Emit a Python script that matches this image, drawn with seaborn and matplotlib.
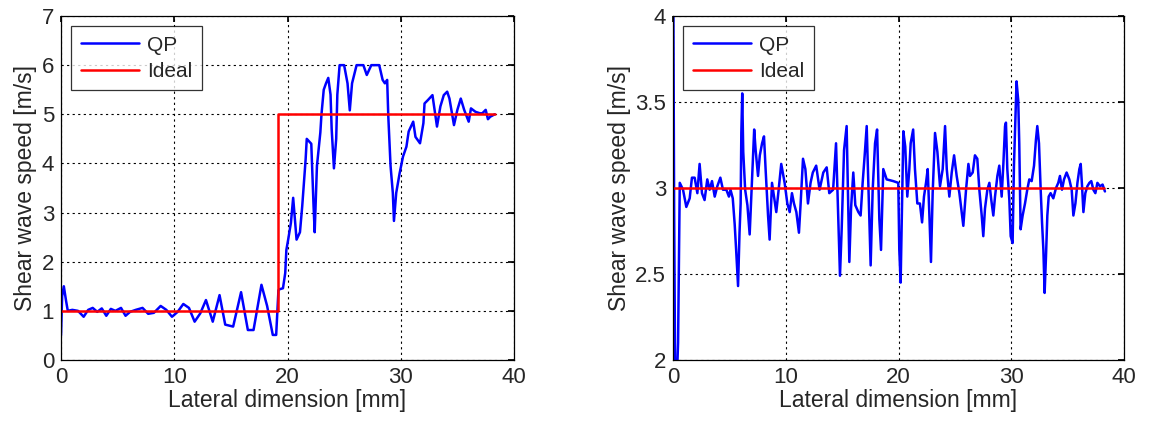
import matplotlib
matplotlib.use("Agg")
import matplotlib.pyplot as plt
import numpy as np
import pandas as pd
import seaborn as sns

# left panel: stepped phantom (1 -> 5 m/s)
step_x = [0, 0.1, 0.25, 0.45, 0.6, 1.0, 1.5, 2.0, 2.4, 2.8, 3.2, 3.6, 4.0, 4.4, 4.8, 5.3, 5.7, 6.1, 6.6,
          7.2, 7.7, 8.2, 8.8, 9.3, 9.8, 10.3, 10.8, 11.3, 11.8, 12.3, 12.8, 13.4, 14.0, 14.5, 15.2, 15.9,
          16.5, 17.0, 17.7, 18.2, 18.7, 19.0, 19.2, 19.3, 19.6, 19.8, 19.9, 20.06, 20.3, 20.5, 20.8,
          21.1, 21.3, 21.6, 21.7, 22.1, 22.3, 22.4, 22.6, 22.9, 23.0, 23.2, 23.4, 23.6, 23.8, 23.9,
          24.1, 24.3, 24.4, 24.6, 25.0, 25.3, 25.5, 25.7, 26.1, 26.7, 27.0, 27.4, 28.1, 28.4, 28.6,
          28.8, 28.9, 29.1, 29.3, 29.4, 29.6, 29.9, 30.2, 30.5, 30.7, 31.1, 31.3, 31.7, 32.0, 32.1,
          32.4, 32.8, 33.2, 33.5, 33.8, 34.1, 34.3, 34.7, 35.0, 35.3, 35.6, 36.0, 36.2, 36.6, 37.0,
          37.2, 37.5, 37.7, 37.9, 38.3]
step_qp = [0.5, 1.3, 1.5, 1.2, 1.0, 1.02, 1.0, 0.88, 1.02, 1.06, 0.98, 1.05, 0.9, 1.04, 1.0, 1.06, 0.9,
           0.98, 1.02, 1.06, 0.94, 0.96, 1.1, 1.02, 0.88, 0.98, 1.14, 1.06, 0.78, 0.95, 1.22, 0.78, 1.32,
           0.72, 0.68, 1.38, 0.61, 0.61, 1.53, 1.1, 0.51, 0.51, 1.42, 1.44, 1.46, 1.77, 2.24, 2.45, 2.79,
           3.3, 2.45, 2.6, 3.13, 4.08, 4.5, 4.4, 3.14, 2.6, 3.95, 4.63, 5.0, 5.5, 5.63, 5.74, 5.4, 4.7,
           3.9, 4.5, 5.4, 6.0, 6.0, 5.63, 5.08, 5.63, 6.0, 6.0, 5.8, 6.0, 6.0, 5.7, 5.63, 5.7, 4.96,
           3.95, 3.4, 2.83, 3.4, 3.8, 4.14, 4.34, 4.65, 4.85, 4.54, 4.41, 4.82, 5.22, 5.29, 5.39, 4.75,
           5.16, 5.39, 5.46, 5.32, 4.78, 5.09, 5.32, 5.09, 4.85, 5.12, 5.05, 5.02, 5.02, 5.09, 4.9,
           4.95, 5.0]
step_ideal_x = [0, 19.15, 19.15, 38.3]
step_ideal = [1, 1, 5, 5]

# right panel: homogeneous phantom (3 m/s)
homo_x = [0, 0.1, 0.2, 0.35, 0.45, 0.6, 0.89, 1.18, 1.48, 1.68, 1.92, 2.16, 2.36, 2.57, 2.8, 3.04, 3.25,
          3.46, 3.7, 3.93, 4.2, 4.43, 4.73, 4.96, 5.1, 5.3, 5.47, 5.6, 5.77, 5.9, 6.0, 6.06, 6.14, 6.23,
          6.4, 6.6, 6.8, 7.0, 7.2, 7.33, 7.54, 7.7, 7.9, 8.07, 8.22, 8.43, 8.57, 8.78, 8.96, 9.16, 9.37,
          9.6, 9.9, 10.14, 10.35, 10.55, 10.73, 10.94, 11.17, 11.32, 11.53, 11.74, 11.97, 12.2, 12.4,
          12.7, 13.0, 13.33, 13.63, 13.86, 14.2, 14.46, 14.67, 14.81, 14.96, 15.17, 15.4, 15.64, 15.79,
          15.99, 16.17, 16.44, 16.64, 16.82, 17.0, 17.18, 17.41, 17.53, 17.71, 17.92, 18.1, 18.3, 18.45,
          18.65, 18.95, 19.54, 19.98, 20.07, 20.19, 20.3, 20.43, 20.6, 20.78, 20.96, 21.08, 21.3, 21.46,
          21.67, 21.9, 22.09, 22.26, 22.44, 22.59, 22.74, 22.88, 23.03, 23.24, 23.45, 23.68, 23.92,
          24.13, 24.28, 24.51, 24.72, 24.93, 25.16, 25.4, 25.6, 25.75, 25.99, 26.2, 26.34, 26.58, 26.78,
          26.99, 27.17, 27.38, 27.52, 27.67, 27.88, 28.06, 28.23, 28.41, 28.56, 28.77, 28.94, 29.15,
          29.3, 29.45, 29.53, 29.65, 29.83, 29.95, 30.12, 30.24, 30.38, 30.47, 30.62, 30.71, 30.83,
          31.01, 31.22, 31.42, 31.6, 31.81, 32.02, 32.19, 32.31, 32.46, 32.61, 32.73, 32.85, 32.96,
          33.08, 33.2, 33.32, 33.49, 33.73, 33.97, 34.17, 34.32, 34.5, 34.68, 34.91, 35.15, 35.36,
          35.51, 35.69, 35.87, 36.04, 36.16, 36.28, 36.4, 36.57, 36.75, 36.93, 37.1, 37.28, 37.46,
          37.64, 37.87, 38.1, 38.31]
homo_qp = [4.6, 2.88, 1.8, 1.9, 2.1, 3.03, 2.99, 2.89, 2.94, 3.06, 3.06, 2.97, 3.14, 2.97, 2.93, 3.05,
           2.99, 3.04, 2.95, 3.01, 3.06, 2.99, 2.99, 2.95, 2.99, 2.94, 2.79, 2.64, 2.43, 2.74, 2.91,
           3.32, 3.55, 3.21, 2.99, 2.9, 2.73, 3.03, 3.34, 3.22, 3.07, 3.19, 3.26, 3.3, 3.1, 2.84, 2.7,
           3.03, 2.95, 2.86, 2.99, 3.14, 3.03, 2.91, 2.86, 2.97, 2.91, 2.86, 2.74, 2.91, 3.17, 3.11,
           2.91, 3.03, 3.09, 3.13, 2.99, 3.09, 3.12, 2.97, 2.99, 3.26, 2.8, 2.49, 2.76, 3.22, 3.36,
           2.57, 2.88, 3.09, 2.9, 2.86, 2.84, 3.03, 3.19, 3.36, 2.84, 2.55, 2.99, 3.26, 3.34, 2.82,
           2.64, 3.11, 3.05, 3.04, 3.03, 2.64, 2.45, 2.84, 3.33, 3.24, 2.95, 3.11, 3.26, 3.34, 3.11,
           2.91, 2.91, 2.8, 2.95, 3.03, 3.11, 2.84, 2.57, 2.97, 3.32, 3.21, 3.01, 3.11, 3.36, 3.11,
           2.95, 3.09, 3.19, 3.07, 2.97, 2.86, 2.78, 2.99, 3.14, 3.07, 3.09, 3.19, 3.17, 2.99, 2.84,
           2.72, 2.88, 2.99, 3.03, 2.93, 2.84, 2.95, 3.07, 3.13, 2.95, 3.14, 3.36, 3.38, 3.11, 2.93,
           2.72, 2.68, 3.13, 3.42, 3.62, 3.51, 3.26, 2.76, 2.84, 2.91, 2.99, 3.05, 3.04, 3.13, 3.28,
           3.36, 3.26, 2.99, 2.8, 2.64, 2.39, 2.6, 2.84, 2.95, 2.97, 2.94, 3.0, 3.03, 3.07, 2.99, 3.05,
           3.09, 3.05, 2.99, 2.84, 2.91, 3.03, 3.11, 3.14, 3.01, 2.86, 2.97, 3.01, 3.03, 3.04, 2.99,
           2.97, 3.03, 3.01, 3.02, 2.98]
homo_ideal_x = [0, 38.2]
homo_ideal = [3, 3]

sns.set_theme(style="white")
plt.rcParams['font.family'] = ['Liberation Sans', 'DejaVu Sans']
plt.rcParams['xtick.direction'] = 'in'
plt.rcParams['ytick.direction'] = 'in'

fig = plt.figure(figsize=(11.52, 4.21), dpi=100)
ax1 = fig.add_axes([61/1152, 61/421, 453/1152, 344/421])
ax2 = fig.add_axes([673/1152, 61/421, 451/1152, 344/421])

panels = [
    (ax1, step_x, step_qp, step_ideal_x, step_ideal, (0, 7), range(0, 8), [str(v) for v in range(0, 8)]),
    (ax2, homo_x, homo_qp, homo_ideal_x, homo_ideal, (2, 4), [2, 2.5, 3, 3.5, 4], ['2', '2.5', '3', '3.5', '4']),
]

for ax, x, qp, ix, ideal, ylim, yt, ytl in panels:
    sns.lineplot(x=x, y=qp, ax=ax, color='#0000ff', lw=1.8, sort=False, estimator=None, label='QP')
    sns.lineplot(x=ix, y=ideal, ax=ax, color='#ff0000', lw=1.8, sort=False, estimator=None, label='Ideal')
    ax.set_xlim(0, 40)
    ax.set_ylim(*ylim)
    ax.set_xticks([0, 10, 20, 30, 40])
    ax.set_yticks(yt)
    ax.set_yticklabels(ytl)
    ax.grid(True, color='black', linestyle=(0, (2, 3)), linewidth=0.8)
    ax.tick_params(labelsize=16, length=4, color='black', top=True, right=True, pad=5)
    for s in ax.spines.values():
        s.set_color('black')
        s.set_linewidth(0.9)
    ax.set_xlabel('Lateral dimension [mm]', fontsize=16.5, labelpad=1)
    ax.set_ylabel('Shear wave speed [m/s]', fontsize=16.5, labelpad=3)
    leg = ax.legend(loc='upper left', fontsize=15, frameon=True, fancybox=False, handlelength=2.8,
                    borderaxespad=0.5, labelspacing=0.35, handletextpad=0.4, borderpad=0.45)
    leg.get_frame().set_edgecolor('black')
    leg.get_frame().set_linewidth(0.9)

fig.savefig('out.png', dpi=100)
